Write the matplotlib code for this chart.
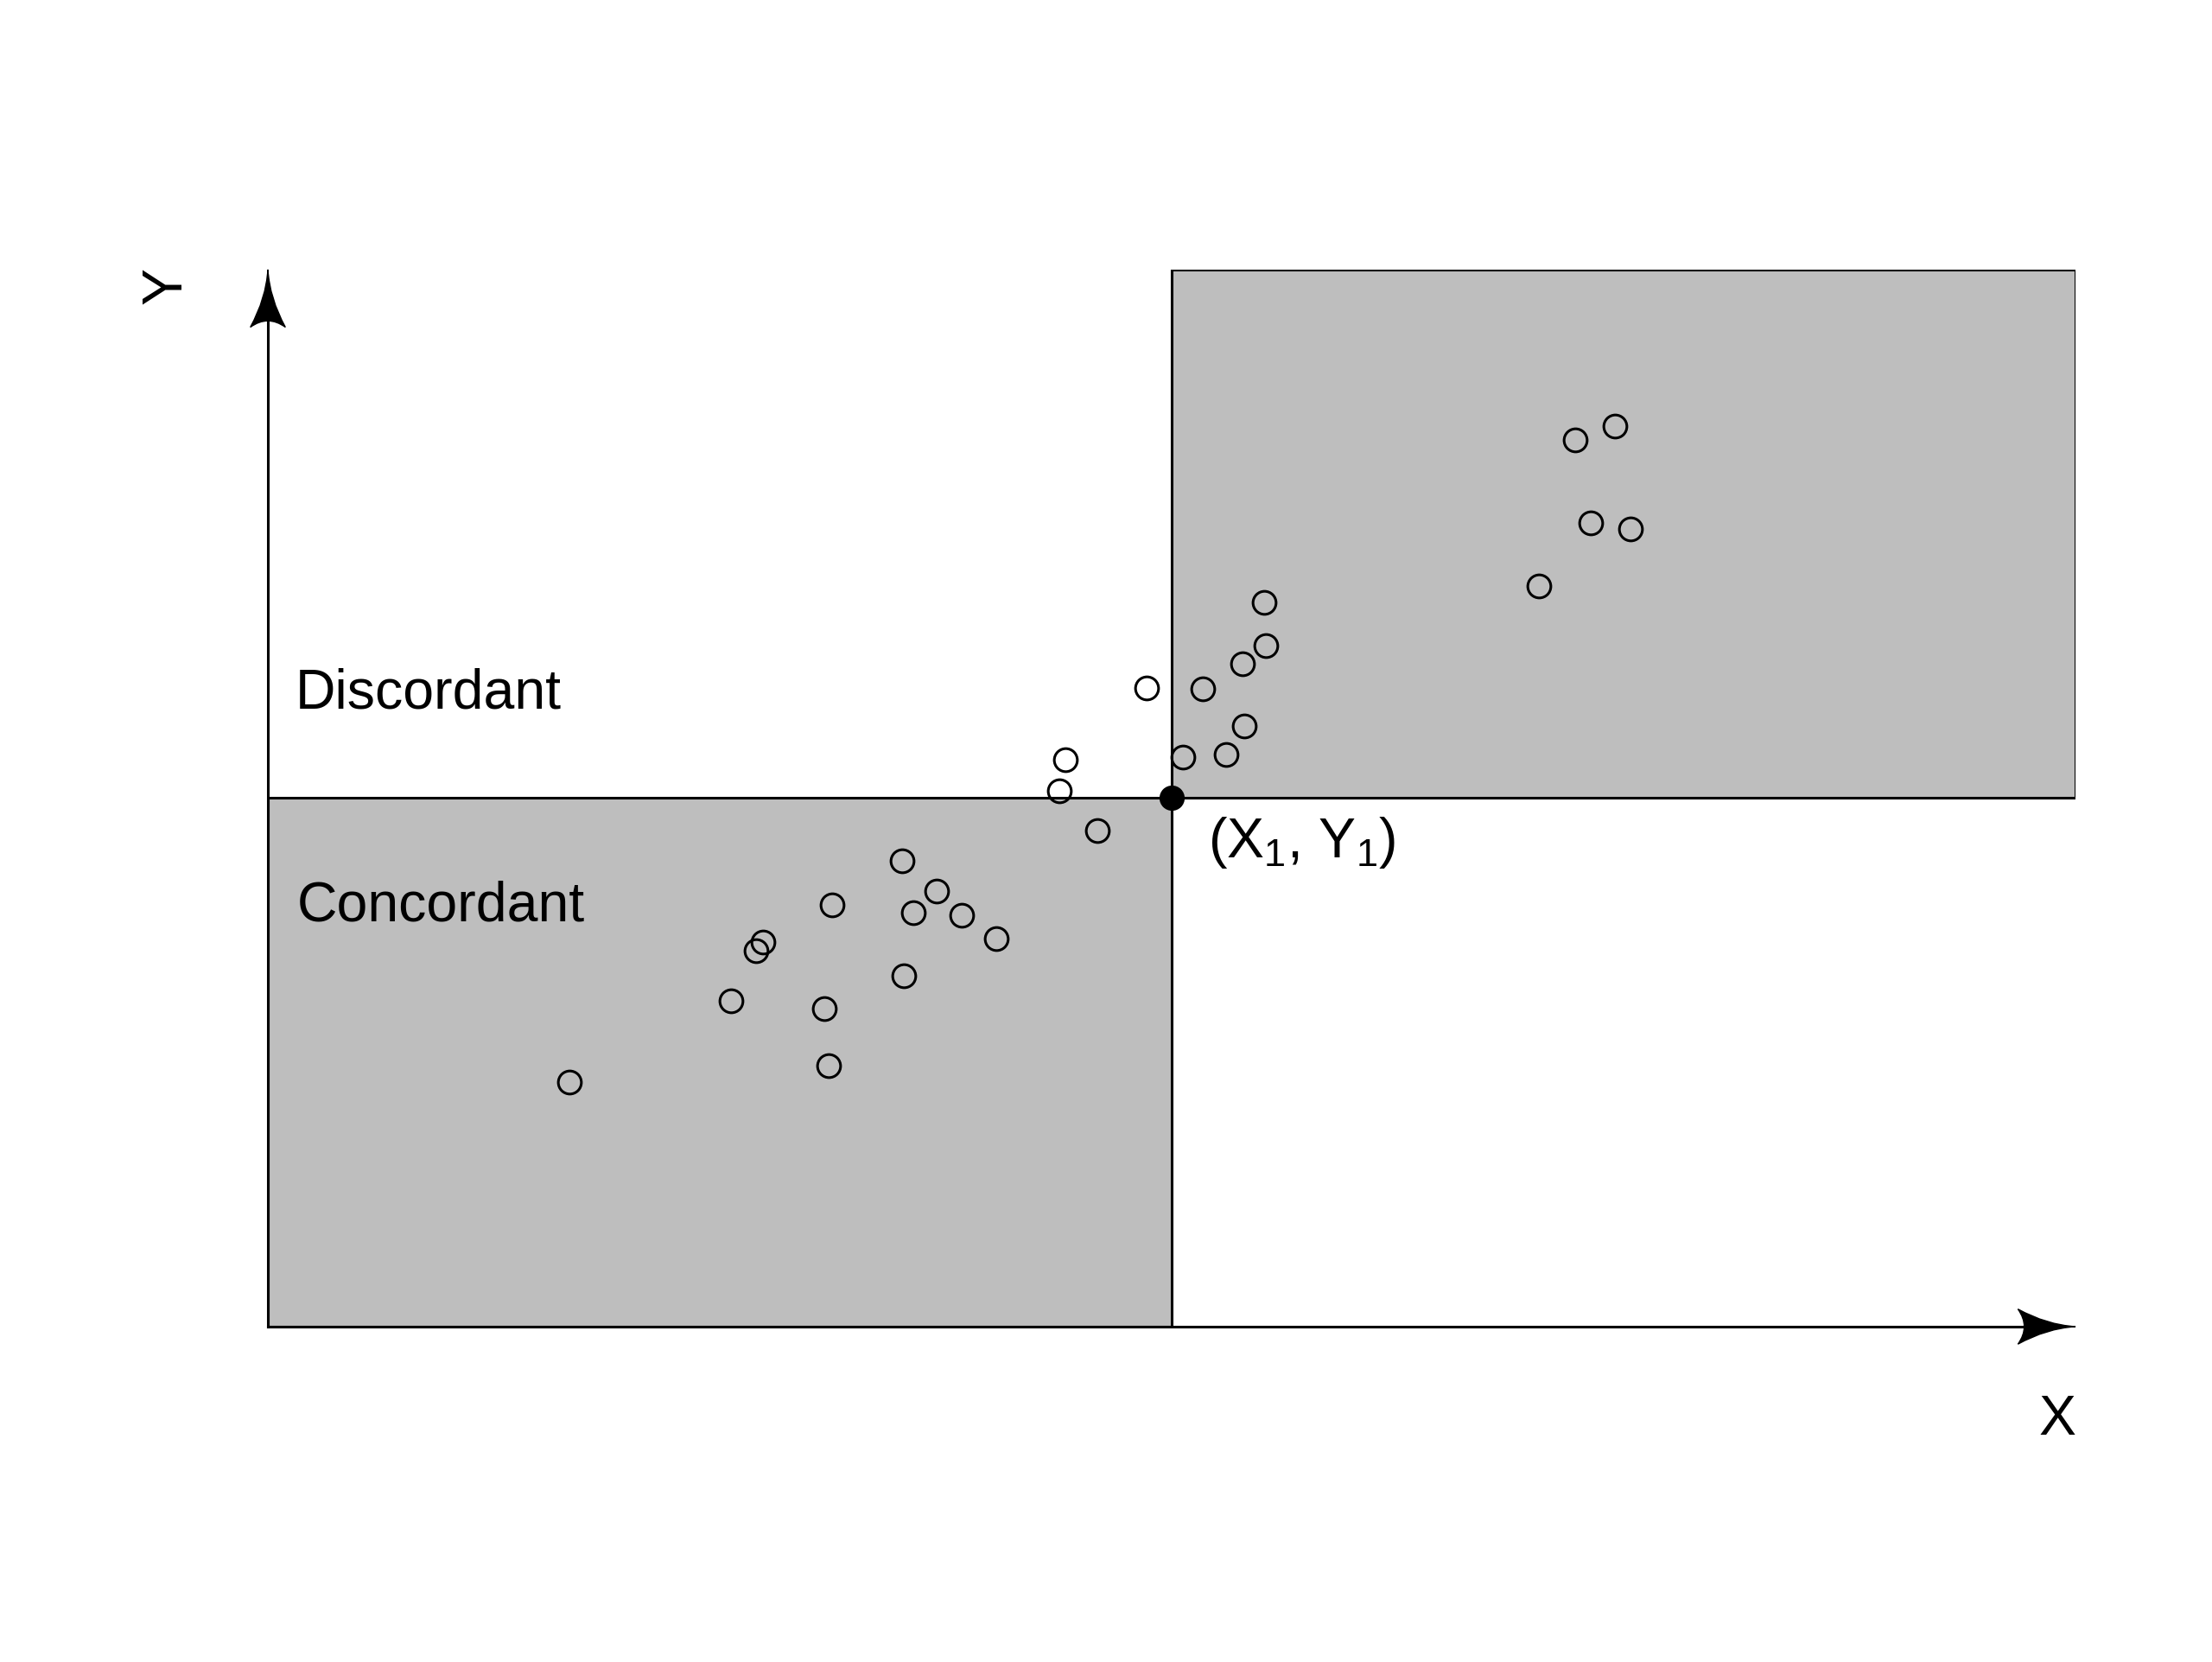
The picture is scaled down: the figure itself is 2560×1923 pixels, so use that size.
import matplotlib
matplotlib.use("Agg")
import matplotlib.pyplot as plt
from matplotlib.patches import Rectangle, PathPatch
from matplotlib.path import Path
from matplotlib.transforms import Affine2D, ScaledTranslation

plt.rcParams["font.family"] = ["Liberation Sans", "DejaVu Sans"]
plt.rcParams["mathtext.default"] = "regular"

# reference point (X1, Y1) and the observed pairs
x1, y1 = 50, 50
xs = [16.7, 25.6, 27.0, 27.4, 30.8, 31.0, 31.2, 35.1, 35.2, 35.7, 37.0, 38.4, 40.3,
      43.8, 44.1, 45.9, 48.6, 50.6, 51.7, 53.0, 53.9, 54.0, 55.1, 55.2,
      70.3, 72.3, 73.2, 74.5, 75.4]
ys = [23.1, 30.8, 35.6, 36.4, 30.1, 24.7, 39.9, 44.1, 33.2, 39.2, 41.2, 38.9, 36.7,
      50.7, 53.6, 46.9, 60.4, 53.9, 60.3, 54.1, 62.7, 56.8, 68.5, 64.4,
      70.1, 83.9, 76.0, 85.2, 75.5]
x_max, y_max = 100, 100

fig = plt.figure(figsize=(12.8, 9.615), dpi=200)
ax = fig.add_axes([0.1211, 0.2018, 0.8172, 0.636])
ax.set_xlim(0, x_max)
ax.set_ylim(0, y_max)
ax.axis("off")

gray = "#bebebe"
lw = 1.1
ax.add_patch(Rectangle((0, 0), x1, y1, facecolor=gray, edgecolor="black", lw=lw, zorder=1))
ax.add_patch(Rectangle((x1, y1), x_max - x1, y_max - y1, facecolor=gray,
                       edgecolor="black", lw=lw, zorder=1))

# axes lines
ax.plot([0, x_max - 1], [0, 0], color="black", lw=lw, clip_on=False, zorder=2)
ax.plot([0, 0], [0, y_max - 1], color="black", lw=lw, clip_on=False, zorder=2)


def arrow_head(x, y, angle):
    # concave arrow head, size in points, tip at (x, y)
    L, W = 24, 7.3
    verts = [(0, 0), (-0.5 * L, 0.1 * W), (-L, W),
             (-0.78 * L, 0), (-L, -W),
             (-0.5 * L, -0.1 * W), (0, 0), (0, 0)]
    codes = [Path.MOVETO, Path.CURVE3, Path.CURVE3, Path.CURVE3, Path.CURVE3,
             Path.CURVE3, Path.CURVE3, Path.CLOSEPOLY]
    tr = (Affine2D().rotate_deg(angle).scale(1 / 72) + fig.dpi_scale_trans
          + ScaledTranslation(x, y, ax.transData))
    p = PathPatch(Path(verts, codes), facecolor="black", edgecolor="black",
                  lw=0.5, transform=tr, clip_on=False, zorder=3)
    ax.add_artist(p)


arrow_head(x_max, 0, 0)
arrow_head(0, y_max, 90)

ax.plot(xs, ys, "o", mfc="none", mec="black", ms=9.6, mew=1.1, clip_on=False, zorder=4)
ax.plot([x1], [y1], "o", color="black", ms=9.5, clip_on=False, zorder=5)

fs = 23.2
ax.text(1.5, 58.5, "Discordant", fontsize=fs, ha="left", va="baseline")
ax.text(1.6, 38.4, "Concordant", fontsize=fs, ha="left", va="baseline")
ax.text(52.0, 44.4, "(X$_1$, Y$_1$)", fontsize=fs, ha="left", va="baseline")
ax.text(-5.6, 98.5, "Y", fontsize=fs, rotation=90, ha="center", va="center")
ax.text(99.0, -8.8, "X", fontsize=fs, ha="center", va="center")

fig.savefig("out.png", dpi=200)
